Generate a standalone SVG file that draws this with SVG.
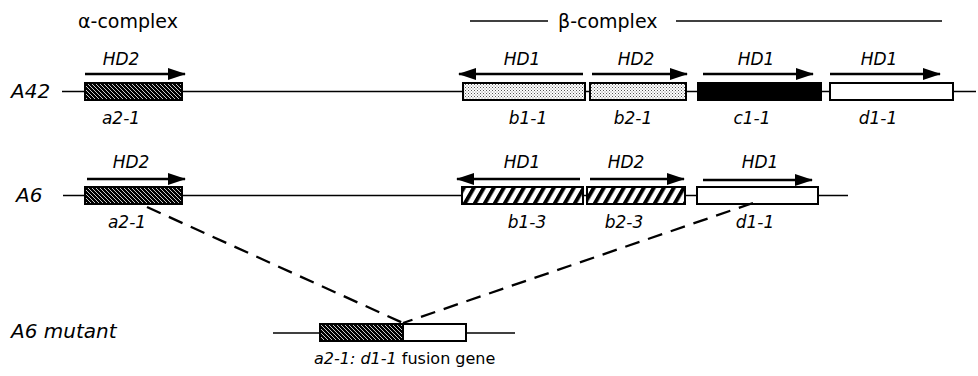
<svg xmlns="http://www.w3.org/2000/svg" width="978" height="376" viewBox="0 0 978 376">
  <style>
    .dna { stroke: #000; stroke-width: 1.7; fill: none; }
    .box { stroke: #000; stroke-width: 2; }
    .arr { stroke: #000; stroke-width: 2.4; fill: none; }
    .dash { stroke: #000; stroke-width: 2.3; fill: none; stroke-dasharray: 15 9; }
    .lbl { font-family: "DejaVu Sans", "Liberation Sans", sans-serif; font-style: italic; fill: #000; }
    .row { font-size: 20px; }
    .hd { font-size: 17px; text-anchor: middle; }
    .gene { font-size: 17px; text-anchor: middle; }
    .plain { font-family: "DejaVu Sans", "Liberation Sans", sans-serif; fill: #000; font-size: 19px; }
  </style>
  <defs>
    <!-- black fill with fine white diagonal lines -->
    <pattern id="dense" patternUnits="userSpaceOnUse" width="4" height="4">
      <rect width="4" height="4" fill="#000"/>
      <path d="M-1,-1 L5,5 M-1,3 L1,5 M3,-1 L5,1" stroke="#fff" stroke-width="0.8"/>
    </pattern>
    <!-- white fill with bold forward stripes -->
    <pattern id="stripe" patternUnits="userSpaceOnUse" width="10" height="10" patternTransform="skewX(-30)">
      <rect width="10" height="10" fill="#fff"/>
      <rect x="0" y="0" width="4.5" height="10" fill="#000"/>
    </pattern>
    <!-- light stipple -->
    <pattern id="dots" patternUnits="userSpaceOnUse" width="3" height="3">
      <rect width="3" height="3" fill="#fff"/>
      <rect x="0" y="0" width="1" height="1" fill="#555"/>
      <rect x="1.5" y="1.5" width="1" height="1" fill="#777"/>
    </pattern>
    <marker id="head" viewBox="0 0 18 12" refX="17" refY="6" markerWidth="18" markerHeight="12" markerUnits="userSpaceOnUse" orient="auto">
      <path d="M0,0 L18,6 L0,12 Z" fill="#000"/>
    </marker>
  </defs>

  <!-- complex headings -->
  <g id="alpha-complex">
    <text class="plain" x="78" y="28">α-complex</text>
  </g>
  <g id="beta-complex">
    <line class="dna" x1="470" y1="21" x2="548" y2="21"/>
    <text class="plain" x="558" y="28">β-complex</text>
    <line class="dna" x1="676" y1="21" x2="942" y2="21"/>
  </g>

  <!-- strain A42 -->
  <g id="A42">
    <text class="lbl row" x="11" y="98">A42</text>
    <line class="dna" x1="62" y1="91.5" x2="976" y2="91.5"/>
    <g id="A42-a2-1">
      <rect class="box" x="85" y="83" width="97" height="17" fill="url(#dense)"/>
      <line class="arr" x1="85" y1="74" x2="185" y2="74" marker-end="url(#head)"/>
      <text class="lbl hd" x="121" y="65">HD2</text>
      <text class="lbl gene" x="121" y="124">a2-1</text>
    </g>
    <g id="A42-b1-1">
      <rect class="box" x="463" y="83" width="122" height="17" fill="url(#dots)"/>
      <line class="arr" x1="583" y1="74" x2="459" y2="74" marker-end="url(#head)"/>
      <text class="lbl hd" x="522" y="65">HD1</text>
      <text class="lbl gene" x="528" y="124">b1-1</text>
    </g>
    <g id="A42-b2-1">
      <rect class="box" x="590" y="83" width="96" height="17" fill="url(#dots)"/>
      <line class="arr" x1="592" y1="74" x2="687" y2="74" marker-end="url(#head)"/>
      <text class="lbl hd" x="636" y="65">HD2</text>
      <text class="lbl gene" x="633" y="124">b2-1</text>
    </g>
    <g id="A42-c1-1">
      <rect class="box" x="698" y="83" width="123" height="17" fill="#000"/>
      <line class="arr" x1="703" y1="74" x2="813" y2="74" marker-end="url(#head)"/>
      <text class="lbl hd" x="756" y="65">HD1</text>
      <text class="lbl gene" x="752" y="124">c1-1</text>
    </g>
    <g id="A42-d1-1">
      <rect class="box" x="830" y="83" width="123" height="17" fill="#fff"/>
      <line class="arr" x1="830" y1="74" x2="940" y2="74" marker-end="url(#head)"/>
      <text class="lbl hd" x="879" y="65">HD1</text>
      <text class="lbl gene" x="878" y="124">d1-1</text>
    </g>
  </g>

  <!-- strain A6 -->
  <g id="A6">
    <text class="lbl row" x="16" y="202">A6</text>
    <line class="dna" x1="63" y1="195.5" x2="848" y2="195.5"/>
    <g id="A6-a2-1">
      <rect class="box" x="85" y="187" width="97" height="17" fill="url(#dense)"/>
      <line class="arr" x1="87" y1="179" x2="185" y2="179" marker-end="url(#head)"/>
      <text class="lbl hd" x="131" y="168">HD2</text>
      <text class="lbl gene" x="127" y="228">a2-1</text>
    </g>
    <g id="A6-b1-3">
      <rect class="box" x="462" y="187" width="121" height="17" fill="url(#stripe)"/>
      <line class="arr" x1="580" y1="179" x2="457" y2="179" marker-end="url(#head)"/>
      <text class="lbl hd" x="522" y="168">HD1</text>
      <text class="lbl gene" x="527" y="228">b1-3</text>
    </g>
    <g id="A6-b2-3">
      <rect class="box" x="587" y="187" width="98" height="17" fill="url(#stripe)"/>
      <line class="arr" x1="590" y1="179" x2="684" y2="179" marker-end="url(#head)"/>
      <text class="lbl hd" x="626" y="168">HD2</text>
      <text class="lbl gene" x="624" y="228">b2-3</text>
    </g>
    <g id="A6-d1-1">
      <rect class="box" x="697" y="187" width="121" height="17" fill="#fff"/>
      <line class="arr" x1="703" y1="180" x2="812" y2="180" marker-end="url(#head)"/>
      <text class="lbl hd" x="760" y="168">HD1</text>
      <text class="lbl gene" x="755" y="228">d1-1</text>
    </g>
  </g>

  <!-- recombination connectors -->
  <g id="connectors">
    <line class="dash" x1="147" y1="207" x2="403" y2="323"/>
    <line class="dash" x1="753" y1="203" x2="403" y2="323"/>
  </g>

  <!-- A6 mutant -->
  <g id="A6-mutant">
    <text class="lbl row" x="11" y="338">A6 mutant</text>
    <line class="dna" x1="273" y1="333" x2="515" y2="333"/>
    <rect class="box" x="320" y="324" width="83" height="17" fill="url(#dense)"/>
    <rect class="box" x="403" y="324" width="63" height="17" fill="#fff"/>
    <text x="314" y="364" style="font-family:'DejaVu Sans', 'Liberation Sans', sans-serif; font-size:16px; fill:#000"><tspan font-style="italic">a2-1: d1-1</tspan> fusion gene</text>
  </g>
</svg>
